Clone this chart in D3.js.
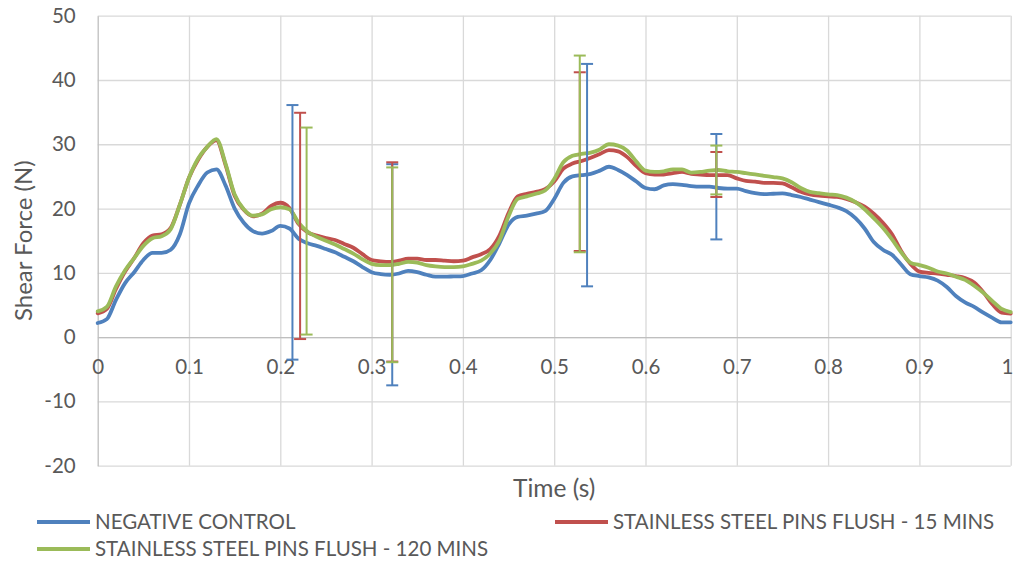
<!DOCTYPE html>
<html>
<head>
<meta charset="utf-8">
<script src="https://cdn.jsdelivr.net/npm/d3@7"></script>
<style>
  html, body { margin: 0; padding: 0; background: #ffffff; }
  svg { display: block; font-family: Lato, "Open Sans", sans-serif; }
</style>
</head>
<body>
<svg id="chart" width="1014" height="561"></svg>
<script>
// Sample times (s), shared by all three series
const time = d3.range(0, 101).map(i => i / 100);

// Shear force (N) — negative control
const negativeControl = [
  2.2, 2.8, 5.8, 8.4, 10.1, 12.0, 13.1, 13.1, 13.6, 16.0,
  20.8, 23.6, 25.6, 26.1, 23.6, 20.0, 17.8, 16.5, 16.1, 16.5,
  17.3, 16.9, 15.3, 14.6, 14.2, 13.7, 13.2, 12.5, 11.8, 10.9,
  10.1, 9.8, 9.7, 9.9, 10.3, 10.1, 9.7, 9.4, 9.4, 9.45,
  9.5, 9.9, 10.4, 12.0, 14.6, 17.5, 18.7, 18.9, 19.2, 19.6,
  21.5, 24.0, 25.0, 25.2, 25.4, 25.9, 26.5, 26.0, 25.2, 24.2,
  23.2, 23.0, 23.6, 23.8, 23.7, 23.5, 23.4, 23.4, 23.2, 23.1,
  23.1, 22.7, 22.4, 22.25, 22.3, 22.35, 22.1, 21.8, 21.4, 21.0,
  20.6, 20.2, 19.6, 18.5, 16.9, 14.8, 13.6, 12.8, 11.3, 9.8,
  9.5, 9.3, 8.8, 7.8, 6.4, 5.4, 4.7, 3.8, 3.0, 2.3,
  2.3
];

// Shear force (N) — stainless steel pins flush, 15 mins
const pins15 = [
  3.7, 4.4, 7.5, 10.2, 12.3, 14.6, 15.8, 16.0, 17.0, 20.6,
  24.8, 27.6, 29.6, 30.6, 26.8, 22.0, 19.8, 18.8, 19.2, 20.4,
  20.9, 20.1, 17.6, 16.3, 15.8, 15.4, 15.1, 14.5, 13.9, 12.9,
  12.0, 11.8, 11.7, 11.9, 12.2, 12.2, 12.0, 12.0, 11.9, 11.8,
  11.9, 12.4, 12.9, 13.7, 15.8, 19.3, 21.9, 22.3, 22.6, 23.0,
  24.2, 26.2, 27.0, 27.4, 27.9, 28.5, 29.1, 28.9, 28.0, 26.6,
  25.5, 25.3, 25.3, 25.5, 25.7, 25.4, 25.3, 25.2, 25.2, 25.2,
  24.7, 24.3, 24.2, 24.0, 24.0, 23.9, 23.3, 22.6, 22.2, 22.0,
  21.9, 21.8, 21.5, 21.0, 20.3, 19.2, 17.8, 16.0, 13.4, 11.4,
  10.2, 10.0, 9.9, 9.7, 9.5, 9.2, 8.5, 7.0, 5.1, 3.8,
  3.65
];

// Shear force (N) — stainless steel pins flush, 120 mins
const pins120 = [
  4.0, 4.7, 7.9, 10.4, 12.3, 14.2, 15.4, 15.7, 16.8, 20.6,
  24.8, 27.8, 29.6, 30.8, 27.0, 22.2, 19.9, 18.9, 19.1, 19.9,
  20.2, 19.9, 17.8, 16.4, 15.6, 15.0, 14.4, 13.7, 13.0, 12.1,
  11.4, 11.2, 11.2, 11.4, 11.7, 11.6, 11.2, 11.0, 10.9, 10.9,
  11.0, 11.4, 11.9, 13.0, 15.0, 18.8, 21.5, 21.9, 22.3, 22.8,
  24.6, 27.2, 28.2, 28.5, 28.7, 29.2, 30.0, 29.8, 29.0, 27.3,
  25.9, 25.7, 25.8, 26.1, 26.1, 25.6, 25.7, 25.9, 26.0, 25.8,
  25.7, 25.5, 25.3, 25.1, 24.9, 24.7, 24.1, 23.2, 22.6, 22.4,
  22.2, 22.1, 21.7, 21.0, 19.9, 18.5, 17.0, 15.2, 13.2, 11.6,
  11.2, 10.8, 10.2, 9.9, 9.4, 8.9, 8.0, 6.9, 5.6, 4.4,
  3.9
];

// Error bars: time (s), mean (N), ± error (N)
const negativeControlErrTime = [0.2133, 0.3226, 0.536, 0.6776];
const negativeControlErrMean = [16.3, 9.7, 25.2, 23.4];
const negativeControlErr     = [19.8, 17.2, 17.3, 8.2];

const pins15ErrTime = [0.2217, 0.3226, 0.528, 0.6776];
const pins15ErrMean = [17.3, 11.7, 27.3, 25.3];
const pins15Err     = [17.6, 15.5, 13.9, 3.5];

const pins120ErrTime = [0.2288, 0.3226, 0.528, 0.6776];
const pins120ErrMean = [16.5, 11.25, 28.5, 26.0];
const pins120Err     = [16.1, 15.15, 15.3, 3.8];

// Axis ticks
const xTicks = [0, 0.1, 0.2, 0.3, 0.4, 0.5, 0.6, 0.7, 0.8, 0.9, 1];
const yTicks = [-20, -10, 0, 10, 20, 30, 40, 50];

const seriesNames = [
  "NEGATIVE CONTROL",
  "STAINLESS STEEL PINS FLUSH - 15 MINS",
  "STAINLESS STEEL PINS FLUSH - 120 MINS"
];
const seriesColors = ["#4F81BD", "#C0504D", "#9BBB59"];

const series = [
  { name: seriesNames[0], color: seriesColors[0], values: negativeControl,
    errT: negativeControlErrTime, errM: negativeControlErrMean, errE: negativeControlErr },
  { name: seriesNames[1], color: seriesColors[1], values: pins15,
    errT: pins15ErrTime, errM: pins15ErrMean, errE: pins15Err },
  { name: seriesNames[2], color: seriesColors[2], values: pins120,
    errT: pins120ErrTime, errM: pins120ErrMean, errE: pins120Err }
];

const svg = d3.select("#chart");
const W = 1014;
const plot = { left: 97.7, right: 1010.7, top: 15.7, bottom: 465.7 };

const x = d3.scaleLinear().domain([0, 1]).range([plot.left, plot.right]);
const y = d3.scaleLinear().domain([-20, 50]).range([plot.bottom, plot.top]);

const textColor = "#595959";
const gridColor = "#d9d9d9";
const axisColor = "#bfbfbf";
const plainNumber = d => String(d);

// Horizontal gridlines
svg.append("g")
  .attr("transform", `translate(${plot.left},0)`)
  .call(d3.axisLeft(y).tickValues(yTicks).tickSize(-(plot.right - plot.left)).tickFormat(""))
  .call(g => g.select(".domain").remove())
  .selectAll("line").attr("stroke", gridColor).attr("stroke-width", 1.3);

// Vertical gridlines
svg.append("g")
  .attr("transform", `translate(0,${plot.bottom})`)
  .call(d3.axisBottom(x).tickValues(xTicks.slice(1)).tickSize(-(plot.bottom - plot.top)).tickFormat(""))
  .call(g => g.select(".domain").remove())
  .selectAll("line").attr("stroke", gridColor).attr("stroke-width", 1.3);

// Y axis line and labels
const yAxis = svg.append("g")
  .attr("transform", `translate(${plot.left},0)`)
  .call(d3.axisLeft(y).tickValues(yTicks).tickSize(0).tickPadding(22).tickFormat(plainNumber));
yAxis.select(".domain").attr("stroke", axisColor).attr("stroke-width", 1.3);
yAxis.selectAll("text")
  .attr("fill", textColor)
  .style("font-size", "20.5px")
  .style("font-family", "Lato, sans-serif");

// X axis crosses at zero
const xAxis = svg.append("g")
  .attr("transform", `translate(0,${y(0)})`)
  .call(d3.axisBottom(x).tickValues(xTicks).tickSize(0).tickPadding(22).tickFormat(plainNumber));
xAxis.select(".domain").attr("stroke", axisColor).attr("stroke-width", 1.3);
xAxis.selectAll("text")
  .attr("fill", textColor)
  .style("font-size", "20.5px")
  .style("font-family", "Lato, sans-serif");
// keep the last label inside the canvas
xAxis.selectAll(".tick").filter(d => d === 1).select("text")
  .attr("text-anchor", "end")
  .attr("x", W - 1 - x(1) );

// Series lines
const line = d3.line()
  .x((d, i) => x(time[i]))
  .y(d => y(d))
  .curve(d3.curveMonotoneX);

svg.append("g").selectAll("path")
  .data(series)
  .join("path")
  .attr("d", s => line(s.values))
  .attr("fill", "none")
  .attr("stroke", s => s.color)
  .attr("stroke-width", 3.8)
  .attr("stroke-linejoin", "round")
  .attr("stroke-linecap", "round");

// Error bars
const capHalf = 6;
series.forEach(s => {
  const g = svg.append("g").attr("stroke", s.color).attr("stroke-width", 2);
  s.errT.forEach((t, i) => {
    const cx = x(t);
    const hi = y(s.errM[i] + s.errE[i]);
    const lo = y(s.errM[i] - s.errE[i]);
    g.append("line").attr("x1", cx).attr("x2", cx).attr("y1", hi).attr("y2", lo);
    g.append("line").attr("x1", cx - capHalf).attr("x2", cx + capHalf).attr("y1", hi).attr("y2", hi);
    g.append("line").attr("x1", cx - capHalf).attr("x2", cx + capHalf).attr("y1", lo).attr("y2", lo);
  });
});

// Axis titles
svg.append("text")
  .attr("x", (plot.left + plot.right) / 2)
  .attr("y", 497)
  .attr("text-anchor", "middle")
  .attr("fill", textColor)
  .style("font-size", "24.5px")
  .text("Time (s)");

svg.append("text")
  .attr("transform", `translate(32,${(plot.top + plot.bottom) / 2}) rotate(-90)`)
  .attr("text-anchor", "middle")
  .attr("fill", textColor)
  .style("font-size", "24px")
  .text("Shear Force (N)");

// Legend
const legendPos = [
  { sx: 37, ty: 522 },
  { sx: 555, ty: 522 },
  { sx: 37, ty: 549 }
];
const legend = svg.append("g");
series.forEach((s, i) => {
  const p = legendPos[i];
  legend.append("line")
    .attr("x1", p.sx).attr("x2", p.sx + 53)
    .attr("y1", p.ty).attr("y2", p.ty)
    .attr("stroke", s.color).attr("stroke-width", 3.8);
  legend.append("text")
    .attr("x", p.sx + 58)
    .attr("y", p.ty)
    .attr("dy", "0.36em")
    .attr("fill", textColor)
    .style("font-size", "20.5px")
    .text(s.name);
});
</script>
</body>
</html>
